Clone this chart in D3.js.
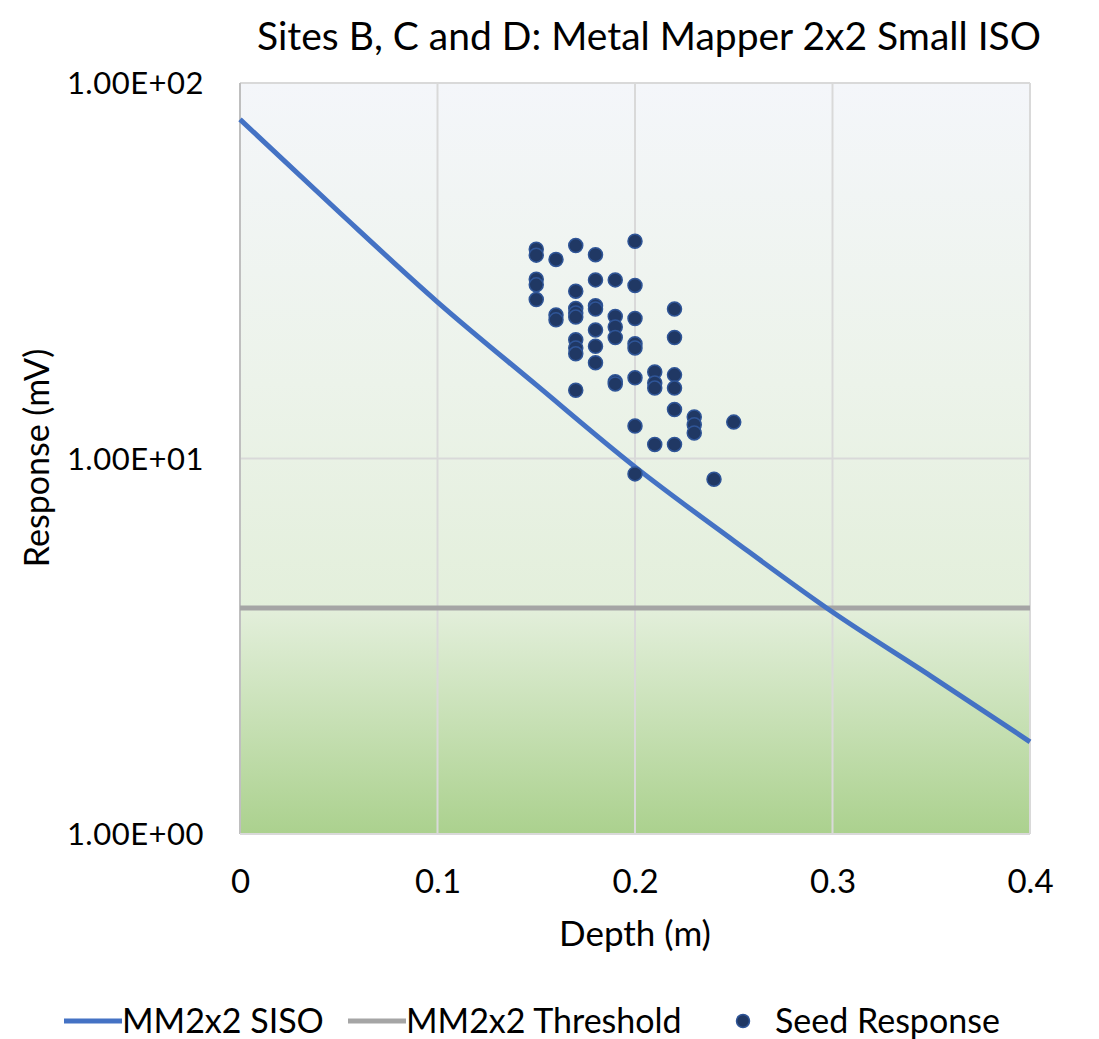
<!DOCTYPE html>
<html>
<head>
<meta charset="utf-8">
<script src="https://cdn.jsdelivr.net/npm/d3@7/dist/d3.min.js"></script>
<style>
  html, body { margin: 0; padding: 0; background: #fff; }
  svg text { font-family: Lato, "Open Sans", sans-serif; fill: #000; }
</style>
</head>
<body>
<svg id="chart" width="1099" height="1039"></svg>
<script>
// ---- data ----
const title = "Sites B, C and D: Metal Mapper 2x2 Small ISO";
const xTicks = [0, 0.1, 0.2, 0.3, 0.4];
const yTicks = [1, 10, 100];
const yTickLabels = ["1.00E+00", "1.00E+01", "1.00E+02"];

// MM2x2 SISO curve
const sisoDepth = [0, 0.05, 0.10, 0.15, 0.20, 0.25, 0.30, 0.35, 0.40];
const sisoResp  = [80, 45.4, 26.1, 15.7, 9.5, 6.04, 3.90, 2.63, 1.76];

// MM2x2 Threshold
const thresholdDepth = [0, 0.4];
const thresholdResp  = [4.0, 4.0];

// Seed Response points
const seedDepth = [
  0.15,0.15,0.15,0.15,0.15,
  0.16,0.16,0.16,
  0.17,0.17,0.17,0.17,0.17,0.17,0.17,0.17,0.17,
  0.18,0.18,0.18,0.18,0.18,0.18,0.18,
  0.19,0.19,0.19,0.19,0.19,0.19,
  0.20,0.20,0.20,0.20,0.20,0.20,0.20,0.20,
  0.21,0.21,0.21,0.21,
  0.22,0.22,0.22,0.22,0.22,0.22,
  0.23,0.23,0.23,
  0.24,
  0.25
];
const seedResp = [
  36.1,34.8,30.0,29.0,26.5,
  33.9,24.1,23.4,
  36.9,27.9,25.1,24.4,23.8,20.7,19.7,19.0,15.2,
  34.9,29.9,25.5,25.0,22.0,19.9,18.0,
  29.9,23.9,22.4,21.0,16.0,15.8,
  37.9,28.9,23.6,20.2,19.7,16.4,12.2,9.1,
  17.0,15.9,15.4,10.9,
  25.0,21.0,16.7,15.4,13.5,10.9,
  12.9,12.3,11.7,
  8.8,
  12.5
];

const legendItems = [
  {label: "MM2x2 SISO", type: "line", color: "#4472c4"},
  {label: "MM2x2 Threshold", type: "line", color: "#a5a5a5"},
  {label: "Seed Response", type: "dot", color: "#203864"}
];

// ---- chart ----
const svg = d3.select("#chart");
const L = 240, R = 1030, T = 83, B = 834;

const x = d3.scaleLinear().domain([0, 0.4]).range([L, R]);
const y = d3.scaleLog().domain([1, 100]).range([B, T]);

const defs = svg.append("defs");
const grad = defs.append("linearGradient").attr("id", "bg")
  .attr("x1", 0).attr("y1", 0).attr("x2", 0).attr("y2", 1);
grad.append("stop").attr("offset", "0%").attr("stop-color", "#f4f6fa");
grad.append("stop").attr("offset", "40%").attr("stop-color", "#ecf3ea");
grad.append("stop").attr("offset", "70%").attr("stop-color", "#e3efdb");
grad.append("stop").attr("offset", "100%").attr("stop-color", "#abd18e");

svg.append("rect").attr("x", L).attr("y", T).attr("width", R - L).attr("height", B - T)
  .attr("fill", "url(#bg)");

// gridlines
svg.append("g").selectAll("line").data(xTicks.slice(1)).join("line")
  .attr("x1", d => x(d)).attr("x2", d => x(d)).attr("y1", T).attr("y2", B)
  .attr("stroke", "#d9d9d9").attr("stroke-width", 2);
svg.append("g").selectAll("line").data(yTicks.slice(1)).join("line")
  .attr("x1", L).attr("x2", R).attr("y1", d => y(d)).attr("y2", d => y(d))
  .attr("stroke", "#d9d9d9").attr("stroke-width", 2);
// axes lines
svg.append("line").attr("x1", L).attr("x2", L).attr("y1", T).attr("y2", B)
  .attr("stroke", "#bfbfbf").attr("stroke-width", 2);
svg.append("line").attr("x1", L).attr("x2", R).attr("y1", B).attr("y2", B)
  .attr("stroke", "#d9d9d9").attr("stroke-width", 2);

// axes via d3
const xAxis = d3.axisBottom(x).tickValues(xTicks).tickSize(0).tickPadding(0)
  .tickFormat(d => d3.format("")(+d.toFixed(1)));
const gx = svg.append("g").attr("transform", `translate(0,${B})`).call(xAxis);
gx.select(".domain").remove();
gx.selectAll("text").attr("y", 59).attr("dy", 0).style("font-size", "33px")
  .style("font-family", "Lato, sans-serif").attr("fill", "#000");

const yAxis = d3.axisLeft(y).tickValues(yTicks).tickSize(0).tickPadding(0)
  .tickFormat((d, i) => yTickLabels[i]);
const gy = svg.append("g").attr("transform", `translate(${L},0)`).call(yAxis);
gy.select(".domain").remove();
gy.selectAll("text").attr("x", -36).attr("dy", "0.35em").style("font-size", "31px")
  .style("letter-spacing", "0.5px")
  .style("font-family", "Lato, sans-serif").attr("fill", "#000");

// threshold line
const line = d3.line().x(d => x(d[0])).y(d => y(d[1]));
svg.append("path").datum(d3.zip(thresholdDepth, thresholdResp))
  .attr("d", line).attr("fill", "none").attr("stroke", "#a5a5a5").attr("stroke-width", 5);

// SISO curve
const curve = d3.line().x(d => x(d[0])).y(d => y(d[1])).curve(d3.curveMonotoneX);
svg.append("path").datum(d3.zip(sisoDepth, sisoResp))
  .attr("d", curve).attr("fill", "none").attr("stroke", "#4472c4").attr("stroke-width", 5)
  .attr("stroke-linejoin", "round");

// seed points
svg.append("g").selectAll("circle").data(d3.zip(seedDepth, seedResp)).join("circle")
  .attr("cx", d => x(d[0])).attr("cy", d => y(d[1])).attr("r", 7)
  .attr("fill", "#203864").attr("stroke", "#2f5597").attr("stroke-width", 1.5);

// title
svg.append("text").attr("x", 649).attr("y", 50).attr("text-anchor", "middle")
  .style("font-size", "39px").text(title);

// axis titles
svg.append("text").attr("x", 635).attr("y", 946).attr("text-anchor", "middle")
  .style("font-size", "35px").text("Depth (m)");
svg.append("text").attr("transform", "translate(49,458) rotate(-90)")
  .attr("text-anchor", "middle").style("font-size", "34px").text("Response (mV)");

// legend
const legendX = [64, 348, 735];
const lg = svg.append("g");
legendItems.forEach((it, i) => {
  const g = lg.append("g").attr("transform", `translate(${legendX[i]},1021)`);
  if (it.type === "line") {
    g.append("line").attr("x1", 0).attr("x2", 58).attr("y1", 0).attr("y2", 0)
      .attr("stroke", it.color).attr("stroke-width", 5);
    g.append("text").attr("x", 58).attr("dy", "0.35em").style("font-size", "34px").text(it.label);
  } else {
    g.append("circle").attr("cx", 8).attr("cy", 0).attr("r", 6.5)
      .attr("fill", it.color).attr("stroke", "#2f5597").attr("stroke-width", 1.5);
    g.append("text").attr("x", 40).attr("dy", "0.35em").style("font-size", "34px").text(it.label);
  }
});
</script>
</body>
</html>
